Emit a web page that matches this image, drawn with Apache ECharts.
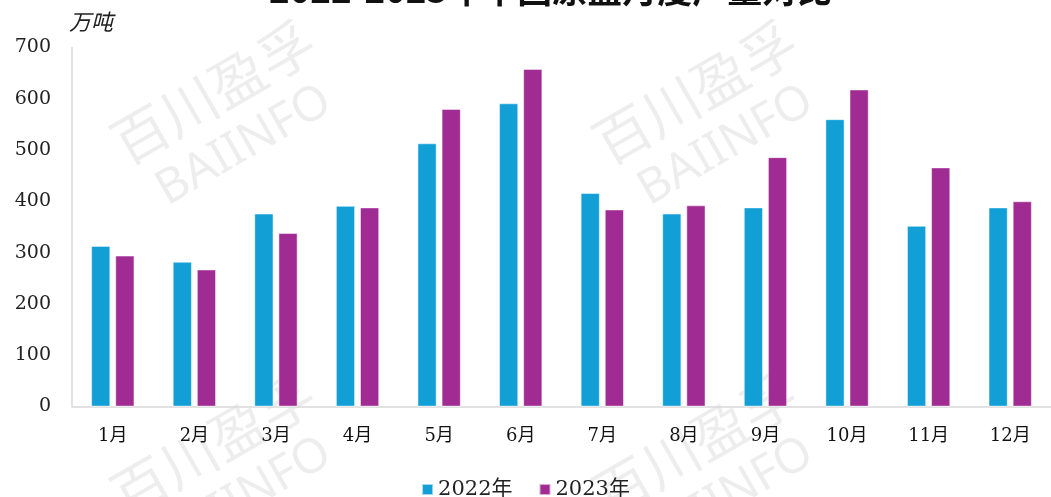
<!DOCTYPE html>
<html><head><meta charset="utf-8">
<script src="https://cdn.jsdelivr.net/npm/echarts@6/dist/echarts.min.js"></script>
<style>html,body{margin:0;padding:0;background:#fff}#c{width:1051px;height:497px}</style>
</head><body><div id="c"></div>
<script>
const title = '2022-2023年中国原盐月度产量对比';
const unit = '万吨';
const months = ['1月','2月','3月','4月','5月','6月','7月','8月','9月','10月','11月','12月'];
const s2022 = [313, 282, 376, 391, 513, 591, 416, 376, 388, 560, 352, 388];
const s2023 = [294, 267, 338, 388, 580, 658, 384, 392, 486, 618, 466, 400];
const yTicks = [0, 100, 200, 300, 400, 500, 600, 700];

const wm = (x, y) => ({
  type: 'group', x: x, y: y, rotation: Math.PI / 6, silent: true, z: 0,
  children: [
    {type: 'text', style: {text: '百川盈孚', font: '56px "Noto Sans CJK SC"', fill: 'rgba(0,0,0,0.07)', align: 'center', verticalAlign: 'middle'}, y: -30},
    {type: 'text', style: {text: 'BAIINFO', font: '48px "Noto Sans"', fill: 'rgba(0,0,0,0.07)', align: 'center', verticalAlign: 'middle'}, y: 32}
  ]
});

const serif = '"DejaVu Serif", "Noto Sans CJK SC"';
const chart = echarts.init(document.getElementById('c'));
chart.setOption({
  animation: false,
  title: {text: title, left: 264, top: -33, textStyle: {fontFamily: '"Noto Sans CJK SC"', fontSize: 35, fontWeight: 'bold', color: '#111'}},
  graphic: [wm(228, 118), wm(710, 118), wm(228, 470), wm(710, 470)],
  grid: {left: 72, right: -7, top: 47.5, bottom: 90.5, containLabel: false},
  legend: {bottom: -8, left: 'center', itemWidth: 11, itemHeight: 11, itemGap: 26,
    icon: 'rect', textStyle: {fontFamily: serif, fontSize: 21, color: '#222'}},
  xAxis: {type: 'category', data: months,
    axisLine: {lineStyle: {color: '#d9d9d9', width: 1.5}}, axisTick: {show: false},
    axisLabel: {fontFamily: serif, fontSize: 18, color: '#111', margin: 21}},
  yAxis: {type: 'value', min: yTicks[0], max: yTicks[yTicks.length - 1], interval: 100,
    name: unit, nameLocation: 'end', nameGap: 15,
    nameTextStyle: {fontFamily: '"Noto Sans CJK SC"', fontSize: 22, fontStyle: 'italic', color: '#222', align: 'center', padding: [0, 0, 0, 38]},
    splitLine: {show: false},
    axisLine: {show: true, lineStyle: {color: '#d9d9d9', width: 1.5}},
    axisLabel: {fontFamily: serif, fontSize: 19, color: '#222', margin: 21}},
  series: [
    {name: '2022年', type: 'bar', data: s2022, barWidth: 19, barGap: '27%',
      itemStyle: {color: '#119FD6', borderColor: 'rgba(255,255,255,0.6)', borderWidth: 0.8}},
    {name: '2023年', type: 'bar', data: s2023, barWidth: 19,
      itemStyle: {color: '#A02B93', borderColor: 'rgba(255,255,255,0.6)', borderWidth: 0.8}}
  ]
});
</script></body></html>
